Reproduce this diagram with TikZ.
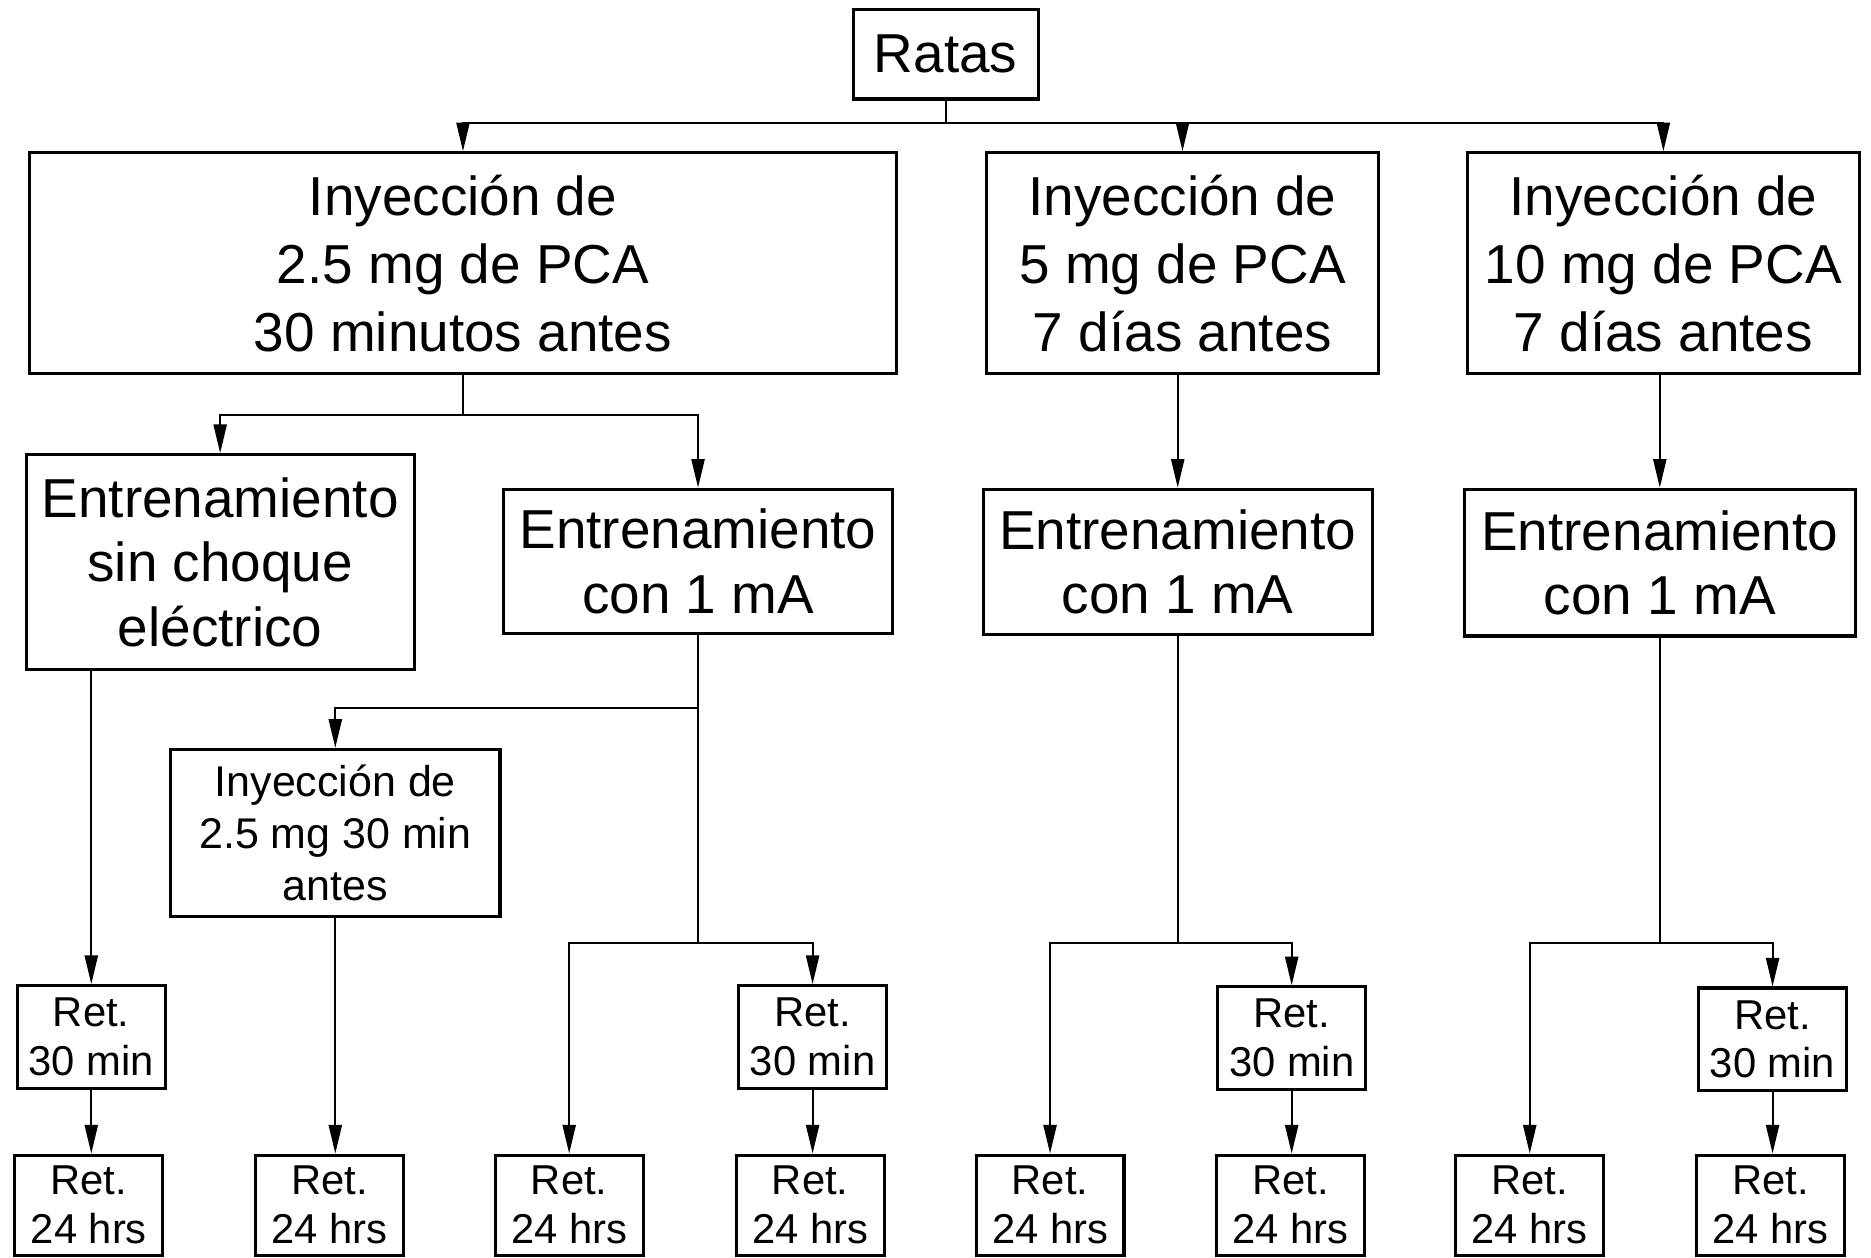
\documentclass[tikz,border=0pt]{standalone}
\usepackage{fontspec}
\setmainfont{Liberation Sans}
\usetikzlibrary{arrows.meta}
\begin{document}
\begin{tikzpicture}[x=0.5pt,y=-0.5pt,
  box/.style={draw,line width=1.3pt,inner sep=0pt,align=center},
  big/.style={box,font=\fontsize{23}{28.5}\selectfont},
  mid/.style={box,font=\fontsize{23}{27}\selectfont},
  sml/.style={box,font=\fontsize{18}{21.75}\selectfont},
  ret/.style={box,minimum width=62pt,minimum height=43pt,font=\fontsize{17.5}{20.5}\selectfont},
  con/.style={line width=0.8pt},
  arr/.style={con,-{Triangle[length=12pt,width=5.5pt]}}]
\useasboundingbox (0,0) rectangle (1568,1054);
% nodes
\node[big,minimum width=77.5pt,minimum height=37.5pt] (ratas) at (792.5,45.5) {Ratas};
\node[big,minimum width=363pt,minimum height=92.5pt] (A) at (388,220.5) {Inyección de\\2.5 mg de PCA\\30 minutos antes};
\node[big,minimum width=164pt,minimum height=92.5pt] (B) at (991,220.5) {Inyección de\\5 mg de PCA\\7 días antes};
\node[big,minimum width=164pt,minimum height=92.5pt] (C) at (1394,220.5) {Inyección de\\10 mg de PCA\\7 días antes};
\node[mid,minimum width=162.5pt,minimum height=90pt] (D) at (184.5,471) {Entrenamiento\\sin choque\\eléctrico};
\node[mid,minimum width=163pt,minimum height=60.5pt] (E) at (585,470.5) {Entrenamiento\\con 1 mA};
\node[mid,minimum width=163pt,minimum height=61pt] (F) at (987,471) {Entrenamiento\\con 1 mA};
\node[mid,minimum width=164pt,minimum height=61.5pt] (G) at (1391,471.5) {Entrenamiento\\con 1 mA};
\node[sml,minimum width=138pt,minimum height=70pt] (H) at (281,698) {Inyección de\\2.5 mg 30 min\\antes};
\node[ret] (r1) at (76.5,869) {Ret.\\30 min};
\node[ret] (r2) at (681,869) {Ret.\\30 min};
\node[ret] (r3) at (1082.5,870) {Ret.\\30 min};
\node[ret] (r4) at (1485.5,871) {Ret.\\30 min};
\foreach \n/\x in {b1/74.5,b2/276,b3/477,b4/679,b5/880,b6/1081.5,b7/1282,b8/1484}
  \node[ret,minimum height=42pt] (\n) at (\x,1010) {Ret.\\24 hrs};
% junctions
\coordinate (j0) at (792.5,103);
\coordinate (j1) at (388,348);
\coordinate (j2) at (585,593);
\coordinate (j3) at (585,790);
\coordinate (j4) at (987,790);
\coordinate (j5) at (1391,790);
% connectors
\draw[con] (ratas.south) -- (j0);
\draw[arr] (j0) -| (A.north);
\draw[arr] (j0) -| (B.north);
\draw[arr] (j0) -| (C.north);
\draw[con] (A.south) -- (j1);
\draw[arr] (j1) -| (D.north);
\draw[arr] (j1) -| (E.north);
\draw[arr] (F.north |- B.south) -- (F.north);
\draw[arr] (G.north |- C.south) -- (G.north);
\draw[con] (E.south) -- (j2);
\draw[arr] (j2) -| (H.north);
\draw[con] (j2) -- (j3);
\draw[arr] (j3) -| (b3.north);
\draw[arr] (j3) -| (r2.north);
\draw[arr] (D.south -| r1.north) -- (r1.north);
\draw[arr] (r1.south) -- (r1.south |- b1.north);
\draw[arr] (H.south) -- (H.south |- b2.north);
\draw[arr] (r2.south) -- (r2.south |- b4.north);
\draw[con] (F.south) -- (j4);
\draw[arr] (j4) -| (b5.north);
\draw[arr] (j4) -| (r3.north);
\draw[arr] (r3.south) -- (r3.south |- b6.north);
\draw[con] (G.south) -- (j5);
\draw[arr] (j5) -| (b7.north);
\draw[arr] (j5) -| (r4.north);
\draw[arr] (r4.south) -- (r4.south |- b8.north);
\end{tikzpicture}
\end{document}
